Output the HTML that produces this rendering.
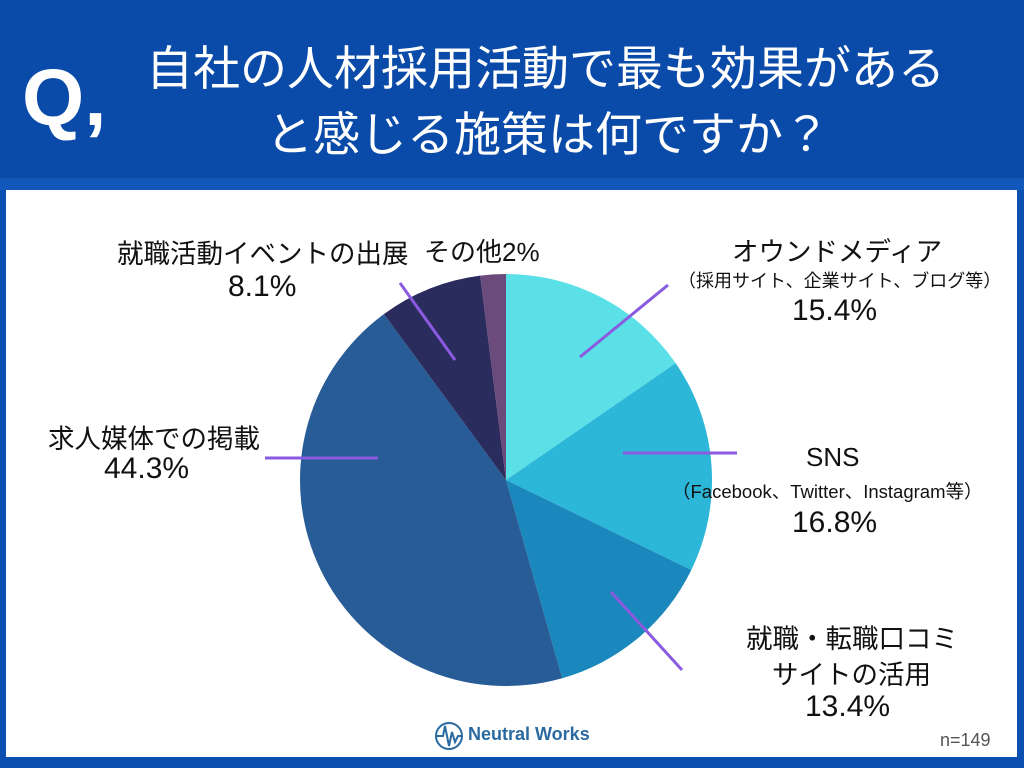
<!DOCTYPE html>
<html><head><meta charset="utf-8"><style>
body{margin:0;width:1024px;height:768px;background:#0b4fb0;position:relative;overflow:hidden;font-family:"Liberation Sans","Noto Sans CJK JP",sans-serif}
.hdr{position:absolute;left:0;top:0;width:1024px;height:178px;background:#0a4aa8}
.band{position:absolute;left:0;top:178px;width:1024px;height:12px;background:#1258bb}
.panel{position:absolute;left:6px;top:190px;width:1011px;height:567px;background:#fff}
.t{position:absolute;color:#fff;font-size:47px;white-space:nowrap}
.l{position:absolute;color:#111;white-space:nowrap;text-align:center}
</style></head><body>
<div class="hdr"></div><div class="band"></div><div class="panel"></div>
<div class="t" style="left:22px;top:52px;font-size:80px;font-weight:bold">Q,</div>
<div class="t" style="left:146px;top:30px">自社の人材採用活動で最も効果がある</div>
<div class="t" style="left:266px;top:96px">と感じる施策は何ですか？</div>
<svg style="position:absolute;left:0;top:0" width="1024" height="768">
<path d="M506,480 L506,274 A206,206 0 0 1 675.7,363.2Z" fill="#5ce0e8"/>
<path d="M506,480 L675.7,363.2 A206,206 0 0 1 691.3,570Z" fill="#2cb6d8"/>
<path d="M506,480 L691.3,570 A206,206 0 0 1 562.2,678.2Z" fill="#1a88bd"/>
<path d="M506,480 L562.2,678.2 A206,206 0 0 1 383.9,314.1Z" fill="#285c96"/>
<path d="M506,480 L383.9,314.1 A206,206 0 0 1 480.2,275.6Z" fill="#2b2c5e"/>
<path d="M506,480 L480.2,275.6 A206,206 0 0 1 506,274Z" fill="#6b4a7c"/>
<g stroke="#8a5ae0" stroke-width="3">
<line x1="580" y1="357" x2="668" y2="285"/><line x1="623" y1="453" x2="737" y2="453"/>
<line x1="611" y1="592" x2="682" y2="670"/><line x1="265" y1="458" x2="378" y2="458"/>
<line x1="400" y1="283" x2="455" y2="360"/></g>
<circle cx="449" cy="736" r="13" fill="none" stroke="#2a6aa0" stroke-width="2"/>
<path d="M437,736 L443,736 L445,726 L449,746 L452,732 L455,742 L458,736 L461,736" fill="none" stroke="#2a6aa0" stroke-width="2"/>
</svg>
<div class="l" style="left:117px;top:232px;font-size:26.5px">就職活動イベントの出展</div>
<div class="l" style="left:228px;top:270px;font-size:30px">8.1%</div>
<div class="l" style="left:424px;top:232px;font-size:26px">その他2%</div>
<div class="l" style="left:732px;top:230px;font-size:26.5px">オウンドメディア</div>
<div class="l" style="left:678px;top:267px;font-size:18px">（採用サイト、企業サイト、ブログ等）</div>
<div class="l" style="left:792px;top:294px;font-size:30px">15.4%</div>
<div class="l" style="left:806px;top:442px;font-size:26px">SNS</div>
<div class="l" style="left:672px;top:478px;font-size:18.5px">（Facebook、Twitter、Instagram等）</div>
<div class="l" style="left:792px;top:506px;font-size:30px">16.8%</div>
<div class="l" style="left:746px;top:617px;font-size:26.5px">就職・転職口コミ</div>
<div class="l" style="left:772px;top:653px;font-size:26.5px">サイトの活用</div>
<div class="l" style="left:805px;top:690px;font-size:30px">13.4%</div>
<div class="l" style="left:48px;top:417px;font-size:26.5px">求人媒体での掲載</div>
<div class="l" style="left:104px;top:452px;font-size:30px">44.3%</div>
<div class="l" style="left:468px;top:724px;font-size:18px;color:#2a6aa0;font-weight:bold">Neutral Works</div>
<div class="l" style="left:940px;top:730px;font-size:18px;color:#555">n=149</div>
</body></html>
